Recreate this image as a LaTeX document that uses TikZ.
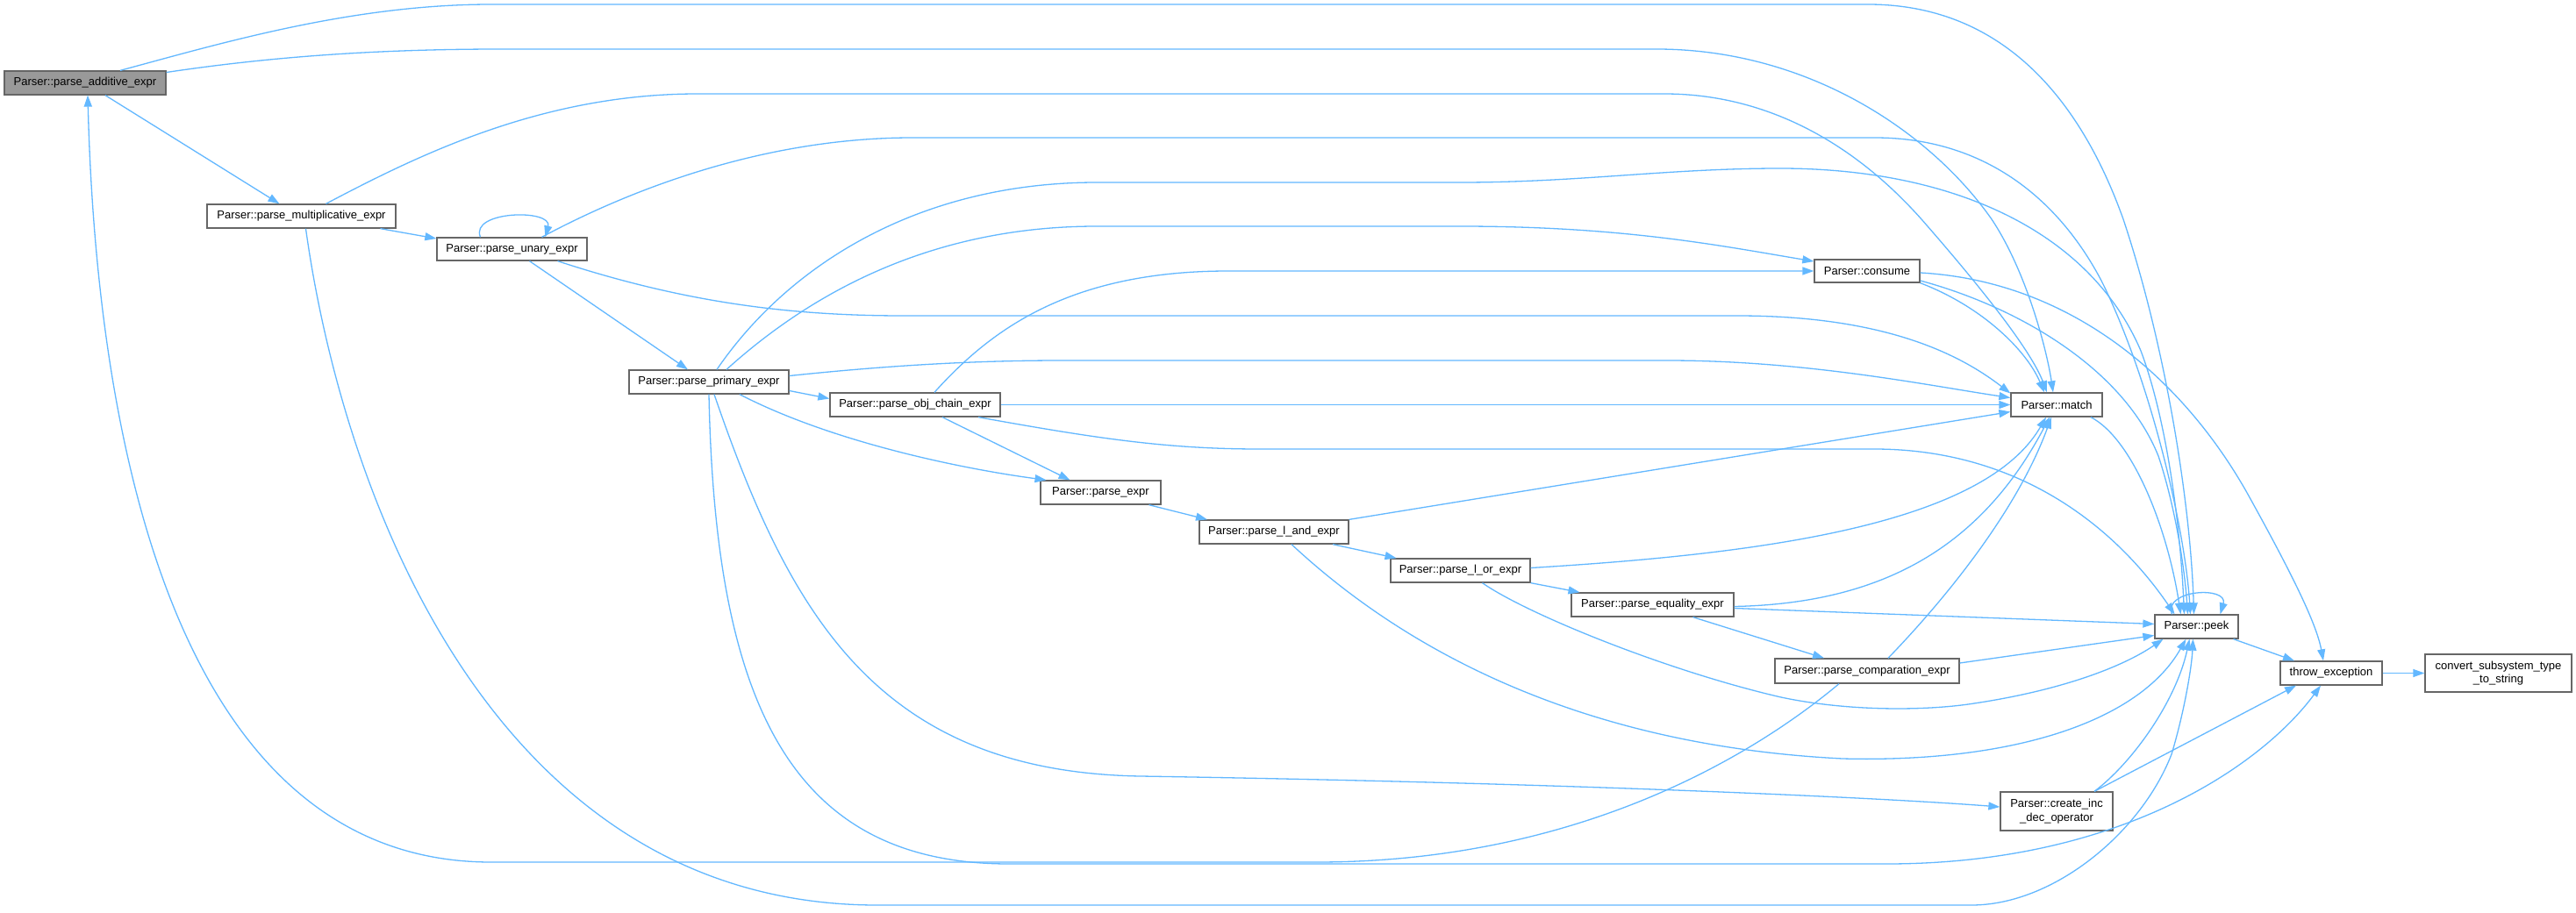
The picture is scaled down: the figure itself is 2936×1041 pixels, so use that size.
\documentclass[tikz,border=0pt]{standalone}
\usepackage{fontspec}
\setmainfont{Liberation Sans}
\usetikzlibrary{arrows.meta}
\definecolor{edgec}{HTML}{63B8FF}
\definecolor{nodeb}{HTML}{666666}
\definecolor{fillg}{HTML}{999999}
\newcommand{\diagfont}{\fontsize{13}{15.7}\selectfont}
\tikzset{
  box/.style={draw=nodeb, line width=1.3pt, rectangle, inner sep=0pt, minimum height=27pt, text=black, font=\diagfont, align=center},
  edge/.style={draw=edgec, line width=1.3pt, -{Triangle[length=13pt,width=9pt]}}
}
\begin{document}
\begin{tikzpicture}[x=1pt,y=-1pt]
\useasboundingbox[fill=white] (0,0) rectangle (2936,1041);
% nodes
\node[box, fill=fillg, minimum width=184pt] (add) at (97,94.5) {Parser::parse\_additive\_expr};
\node[box, minimum width=215pt] (mul) at (343.5,246.5) {Parser::parse\_multiplicative\_expr};
\node[box, minimum width=171pt, minimum height=26pt] (una) at (583.5,284) {Parser::parse\_unary\_expr};
\node[box, minimum width=182pt] (pri) at (808,435.5) {Parser::parse\_primary\_expr};
\node[box, minimum width=194pt] (obj) at (1043,461.5) {Parser::parse\_obj\_chain\_expr};
\node[box, minimum width=137pt] (pex) at (1254.5,561.5) {Parser::parse\_expr};
\node[box, minimum width=170pt] (land) at (1452,606.5) {Parser::parse\_l\_and\_expr};
\node[box, minimum width=159pt] (lor) at (1664.5,650.5) {Parser::parse\_l\_or\_expr};
\node[box, minimum width=185pt] (eq) at (1883.5,689.5) {Parser::parse\_equality\_expr};
\node[box, minimum width=210pt, minimum height=28pt] (cmp) at (2128,765) {Parser::parse\_comparation\_expr};
\node[box, minimum width=120pt, minimum height=26pt] (con) at (2128,309) {Parser::consume};
\node[box, minimum width=104pt] (mat) at (2344,461.5) {Parser::match};
\node[box, minimum width=95pt] (peek) at (2503.5,714.5) {Parser::peek};
\node[box, minimum width=116pt] (thr) at (2657,767.5) {throw\_exception};
\node[box, minimum width=167pt, minimum height=43pt] (cnv) at (2847.5,767.5) {convert\_subsystem\_type\\\_to\_string};
\node[box, minimum width=128pt, minimum height=44pt] (cid) at (2344,925) {Parser::create\_inc\\\_dec\_operator};
% edges from additive
\draw[edge] ([xshift=23pt]add.south) -- ([xshift=-25pt]mul.north);
\draw[edge] ([xshift=40pt]add.north) .. controls (250,50) and (400,5) .. (560,5) -- (2129,5) .. controls (2280,5) and (2370,110) .. (2420,250) .. controls (2470,400) and (2497,580) .. ([xshift=-3pt]peek.north);
\draw[edge] ([yshift=12pt]add.east) .. controls (300,66) and (420,56) .. (571,56) -- (1888,56) .. controls (2060,56) and (2200,150) .. (2270,250) .. controls (2310,310) and (2333,400) .. ([xshift=-4pt]mat.north);
% multiplicative
\draw[edge] ([xshift=90pt]mul.south) -- ([yshift=12pt]una.west);
\draw[edge] ([xshift=28pt]mul.north) .. controls (480,175) and (620,107) .. (795,107) -- (1897,107) .. controls (2010,107) and (2110,160) .. (2190,250) .. controls (2260,330) and (2315,400) .. ([xshift=-11pt]mat.north);
\draw[edge] ([xshift=5pt]mul.south) .. controls (390,560) and (560,1032) .. (1000,1032) -- (2247,1032) .. controls (2340,1032) and (2440,950) .. (2475,860) .. controls (2490,810) and (2498,760) .. ([xshift=-4pt]peek.south);
% unary
\draw[edge] ([xshift=-36pt]una.north) .. controls (535,240) and (630,238) .. ([xshift=38pt]una.north);
\draw[edge] ([xshift=20pt]una.south) -- ([xshift=-24pt]pri.north);
\draw[edge] ([xshift=34pt]una.north) .. controls (730,210) and (880,157) .. (1040,157) -- (2137,157) .. controls (2260,157) and (2345,225) .. (2395,320) .. controls (2450,430) and (2490,600) .. ([xshift=-7pt]peek.north);
\draw[edge] ([xshift=52pt]una.south) .. controls (780,345) and (900,360) .. (1030,360) -- (1980,360) .. controls (2150,360) and (2235,405) .. ([yshift=13pt]mat.west);
% primary
\draw[edge] ([xshift=20pt]pri.north) .. controls (940,320) and (1080,258) .. (1250,258) -- (1664,258) .. controls (1850,258) and (1960,280) .. ([yshift=11pt]con.west);
\draw[edge] ([xshift=9pt]pri.north) .. controls (900,300) and (1050,208) .. (1250,208) -- (1664,208) .. controls (1800,208) and (1900,192) .. (2029,192) .. controls (2220,192) and (2380,260) .. (2440,400) .. controls (2470,480) and (2485,600) .. ([xshift=-14pt]peek.north);
\draw[edge] ([yshift=7pt]pri.east) .. controls (1000,418) and (1100,411) .. (1210,411) -- (1900,411) .. controls (2060,411) and (2200,440) .. ([yshift=8pt]mat.west);
\draw[edge] ([yshift=-10pt]pri.east) -- ([yshift=7pt]obj.west);
\draw[edge] ([xshift=35pt]pri.south) .. controls (950,505) and (1100,535) .. ([xshift=-62pt]pex.north);
\draw[edge] ([xshift=6pt]pri.south) .. controls (900,700) and (1000,880) .. (1300,885) .. controls (1800,893) and (2150,910) .. ([yshift=5pt]cid.west);
\draw[edge] (pri.south) .. controls (815,800) and (900,985) .. (1150,985) -- (2150,985) .. controls (2420,985) and (2580,870) .. ([xshift=-12pt]thr.south);
% obj chain
\draw[edge] ([xshift=22pt]obj.north) .. controls (1130,375) and (1220,309) .. (1400,309) -- (con.west);
\draw[edge] (obj.east) -- (mat.west);
\draw[edge] ([xshift=31pt]obj.south) -- ([xshift=-35pt]pex.north);
\draw[edge] ([xshift=72pt]obj.south) .. controls (1250,500) and (1330,512) .. (1436,512) -- (2136,512) .. controls (2300,512) and (2410,600) .. ([xshift=-25pt]peek.north);
% expr chain
\draw[edge] ([xshift=55pt]pex.south) -- ([xshift=-76pt]land.north);
\draw[edge] (land.north east) -- ([yshift=-8pt]mat.west);
\draw[edge] ([xshift=67pt]land.south) -- ([xshift=-73pt]lor.north);
\draw[edge] ([xshift=20pt]land.south) .. controls (1600,740) and (1800,850) .. (2100,865) .. controls (2300,870) and (2440,820) .. ([xshift=-12pt]peek.south);
\draw[edge] ([yshift=3pt]lor.east) .. controls (2000,632) and (2260,600) .. ([xshift=-12pt]mat.south);
\draw[edge] (lor.south east) -- ([xshift=-83pt]eq.north);
\draw[edge] ([xshift=25pt]lor.south) .. controls (1740,700) and (1900,765) .. (2030,795) .. controls (2110,812) and (2200,810) .. (2250,802) .. controls (2350,787) and (2420,760) .. ([xshift=-38pt]peek.south);
\draw[edge] ([yshift=-2pt]eq.east) .. controls (2150,688) and (2260,620) .. ([xshift=-8pt]mat.south);
\draw[edge] ([yshift=-4pt]eq.east) -- ([yshift=3pt]peek.west);
\draw[edge] ([xshift=46pt]eq.south) -- ([xshift=-49pt]cmp.north);
\draw[edge] ([xshift=24pt]cmp.north) .. controls (2220,680) and (2300,580) .. ([xshift=-6pt]mat.south);
\draw[edge] ([yshift=9pt]cmp.east) -- ([yshift=-10pt]peek.west);
\draw[edge] ([xshift=-32pt]cmp.south) .. controls (2000,860) and (1800,983) .. (1500,983) -- (560,983) .. controls (200,983) and (110,500) .. ([xshift=3pt]add.south);
% consume
\draw[edge] (con.south east) .. controls (2260,350) and (2310,400) .. ([xshift=-14pt]mat.north);
\draw[edge] ([yshift=-11pt]con.east) .. controls (2300,350) and (2420,420) .. (2460,520) .. controls (2480,580) and (2490,650) .. ([xshift=-10pt]peek.north);
\draw[edge] ([yshift=-2pt]con.east) .. controls (2350,320) and (2480,420) .. (2560,560) .. controls (2610,650) and (2640,710) .. ([xshift=-9pt]thr.north);
% match, peek, others
\draw[edge] ([xshift=39pt]mat.south) .. controls (2430,500) and (2470,600) .. ([xshift=-18pt]peek.north);
\draw[edge] ([xshift=-28pt]peek.north) .. controls (2465,672) and (2540,668) .. ([xshift=27pt]peek.north);
\draw[edge] ([xshift=42pt]peek.south) -- ([xshift=-42pt]thr.north);
\draw[edge] ([xshift=43pt]cid.north) .. controls (2430,870) and (2480,800) .. ([xshift=-8pt]peek.south);
\draw[edge] ([xshift=43pt]cid.north) -- ([xshift=-40pt]thr.south);
\draw[edge] (thr.east) -- (cnv.west);
\end{tikzpicture}
\end{document}
